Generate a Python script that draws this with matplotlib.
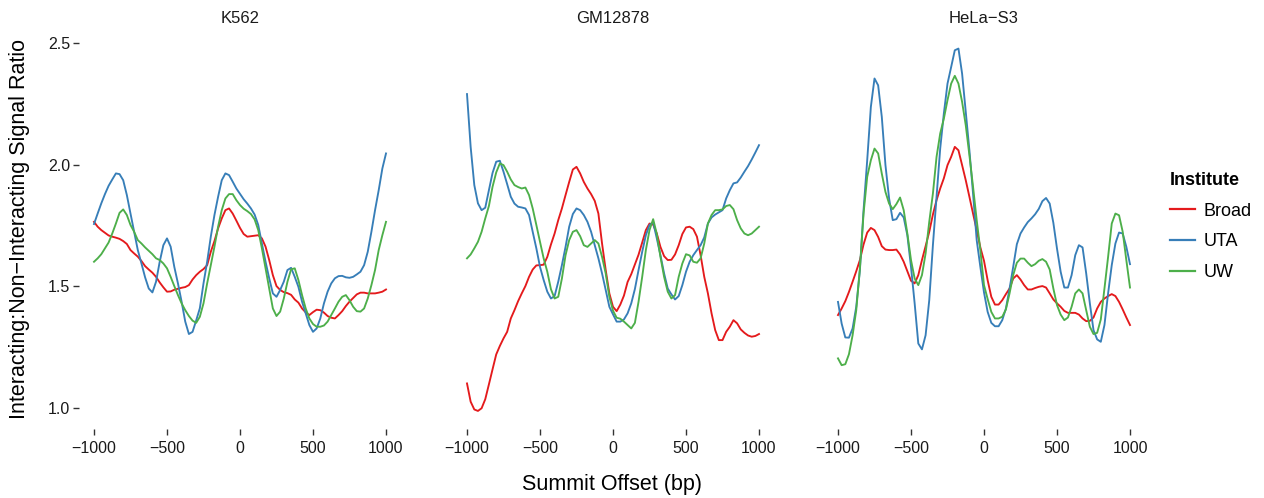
import matplotlib
matplotlib.use("Agg")
import matplotlib.pyplot as plt
from matplotlib.lines import Line2D

plt.rcParams['font.family'] = ['Liberation Sans', 'DejaVu Sans']

offsets = list(range(-1000, 1001, 25))
cell_lines = ["K562", "GM12878", "HeLa\u2212S3"]
institutes = ["Broad", "UTA", "UW"]
colors = {"Broad": "#E41A1C", "UTA": "#377EB8", "UW": "#4DAF4A"}

k562_broad = [1.765, 1.745, 1.731, 1.720, 1.709, 1.704, 1.700, 1.695, 1.686, 1.674,
              1.649, 1.635, 1.622, 1.604, 1.583, 1.569, 1.556, 1.539, 1.516, 1.496,
              1.478, 1.479, 1.486, 1.490, 1.494, 1.497, 1.505, 1.528, 1.546, 1.560,
              1.571, 1.587, 1.642, 1.686, 1.738, 1.779, 1.813, 1.820, 1.799, 1.770,
              1.740, 1.715, 1.704, 1.706, 1.708, 1.710, 1.697, 1.663, 1.608, 1.546,
              1.501, 1.485, 1.476, 1.472, 1.465, 1.446, 1.433, 1.409, 1.393, 1.382,
              1.394, 1.404, 1.402, 1.392, 1.378, 1.371, 1.368, 1.382, 1.398, 1.419,
              1.437, 1.452, 1.467, 1.474, 1.474, 1.471, 1.471, 1.471, 1.474, 1.478,
              1.487]
k562_uta = [1.756, 1.799, 1.841, 1.879, 1.913, 1.939, 1.964, 1.961, 1.936, 1.875,
            1.799, 1.724, 1.649, 1.594, 1.537, 1.491, 1.475, 1.519, 1.601, 1.669,
            1.697, 1.663, 1.580, 1.512, 1.437, 1.355, 1.304, 1.313, 1.360, 1.410,
            1.512, 1.601, 1.704, 1.793, 1.868, 1.936, 1.964, 1.957, 1.930, 1.902,
            1.880, 1.858, 1.840, 1.820, 1.795, 1.752, 1.676, 1.601, 1.533, 1.471,
            1.457, 1.485, 1.519, 1.567, 1.576, 1.539, 1.498, 1.437, 1.389, 1.341,
            1.313, 1.327, 1.368, 1.430, 1.478, 1.512, 1.533, 1.542, 1.543, 1.537,
            1.535, 1.539, 1.549, 1.560, 1.587, 1.642, 1.724, 1.813, 1.895, 1.984,
            2.046]
k562_uw = [1.601, 1.615, 1.632, 1.656, 1.680, 1.717, 1.758, 1.802, 1.816, 1.793,
           1.752, 1.724, 1.690, 1.676, 1.660, 1.646, 1.632, 1.615, 1.608, 1.594,
           1.574, 1.539, 1.501, 1.464, 1.430, 1.402, 1.378, 1.359, 1.350, 1.375,
           1.430, 1.512, 1.587, 1.663, 1.745, 1.813, 1.861, 1.879, 1.879, 1.854,
           1.834, 1.819, 1.809, 1.797, 1.775, 1.731, 1.656, 1.574, 1.491, 1.409,
           1.378, 1.396, 1.450, 1.519, 1.570, 1.574, 1.526, 1.464, 1.409, 1.368,
           1.345, 1.334, 1.334, 1.339, 1.355, 1.382, 1.409, 1.437, 1.457, 1.464,
           1.443, 1.416, 1.398, 1.396, 1.409, 1.450, 1.505, 1.567, 1.649, 1.710,
           1.765]

gm_broad = [1.101, 1.026, 0.994, 0.988, 0.999, 1.036, 1.097, 1.159, 1.220, 1.255,
            1.286, 1.313, 1.368, 1.402, 1.439, 1.471, 1.501, 1.539, 1.569, 1.586,
            1.587, 1.589, 1.621, 1.672, 1.717, 1.772, 1.820, 1.875, 1.929, 1.980,
            1.991, 1.964, 1.929, 1.902, 1.879, 1.851, 1.799, 1.676, 1.567, 1.471,
            1.416, 1.398, 1.425, 1.462, 1.518, 1.550, 1.590, 1.630, 1.680, 1.731,
            1.758, 1.754, 1.717, 1.662, 1.624, 1.608, 1.609, 1.631, 1.669, 1.715,
            1.742, 1.745, 1.735, 1.704, 1.628, 1.539, 1.471, 1.389, 1.320, 1.279,
            1.279, 1.313, 1.334, 1.361, 1.348, 1.323, 1.309, 1.298, 1.293, 1.296,
            1.304]
gm_uta = [2.290, 2.073, 1.916, 1.841, 1.813, 1.823, 1.895, 1.966, 2.012, 2.016,
          1.971, 1.920, 1.868, 1.840, 1.827, 1.824, 1.820, 1.793, 1.724, 1.656,
          1.580, 1.526, 1.478, 1.450, 1.460, 1.519, 1.587, 1.662, 1.745, 1.797,
          1.820, 1.813, 1.793, 1.765, 1.724, 1.669, 1.615, 1.553, 1.485, 1.416,
          1.385, 1.355, 1.355, 1.364, 1.389, 1.430, 1.489, 1.567, 1.642, 1.710,
          1.752, 1.763, 1.697, 1.628, 1.553, 1.491, 1.467, 1.446, 1.460, 1.505,
          1.560, 1.601, 1.628, 1.649, 1.669, 1.701, 1.758, 1.783, 1.795, 1.804,
          1.813, 1.861, 1.895, 1.923, 1.927, 1.947, 1.971, 1.994, 2.021, 2.050,
          2.080]
gm_uw = [1.615, 1.631, 1.656, 1.683, 1.724, 1.779, 1.830, 1.909, 1.968, 2.005,
         1.998, 1.971, 1.939, 1.916, 1.908, 1.902, 1.906, 1.875, 1.820, 1.752,
         1.683, 1.615, 1.560, 1.488, 1.450, 1.457, 1.532, 1.628, 1.690, 1.724,
         1.731, 1.706, 1.669, 1.662, 1.676, 1.690, 1.676, 1.621, 1.553, 1.457,
         1.400, 1.371, 1.367, 1.355, 1.341, 1.327, 1.350, 1.437, 1.539, 1.649,
         1.731, 1.776, 1.715, 1.621, 1.539, 1.478, 1.450, 1.464, 1.539, 1.594,
         1.632, 1.627, 1.601, 1.597, 1.615, 1.676, 1.758, 1.793, 1.813, 1.813,
         1.816, 1.830, 1.834, 1.817, 1.772, 1.738, 1.717, 1.710, 1.717, 1.731,
         1.745]

hela_broad = [1.382, 1.409, 1.439, 1.477, 1.519, 1.562, 1.608, 1.672, 1.721, 1.740,
              1.731, 1.703, 1.665, 1.651, 1.649, 1.649, 1.651, 1.631, 1.601, 1.562,
              1.523, 1.512, 1.546, 1.608, 1.665, 1.724, 1.795, 1.854, 1.902, 1.944,
              1.998, 2.032, 2.073, 2.059, 1.998, 1.936, 1.868, 1.799, 1.731, 1.660,
              1.605, 1.525, 1.457, 1.425, 1.425, 1.443, 1.468, 1.491, 1.532, 1.546,
              1.528, 1.505, 1.487, 1.487, 1.493, 1.498, 1.501, 1.495, 1.471, 1.446,
              1.430, 1.416, 1.399, 1.391, 1.391, 1.391, 1.384, 1.368, 1.357, 1.358,
              1.372, 1.409, 1.436, 1.450, 1.460, 1.468, 1.460, 1.436, 1.405, 1.372,
              1.341]
hela_uta = [1.436, 1.347, 1.290, 1.289, 1.327, 1.416, 1.567, 1.813, 2.018, 2.237,
            2.354, 2.326, 2.196, 1.998, 1.861, 1.772, 1.776, 1.802, 1.783, 1.710,
            1.580, 1.430, 1.265, 1.241, 1.299, 1.443, 1.669, 1.868, 2.066, 2.210,
            2.333, 2.401, 2.470, 2.477, 2.374, 2.217, 2.059, 1.881, 1.690, 1.580,
            1.475, 1.395, 1.350, 1.336, 1.336, 1.361, 1.409, 1.490, 1.580, 1.673,
            1.717, 1.742, 1.764, 1.779, 1.796, 1.818, 1.850, 1.863, 1.840, 1.761,
            1.655, 1.560, 1.495, 1.495, 1.546, 1.628, 1.669, 1.660, 1.553, 1.430,
            1.320, 1.282, 1.272, 1.341, 1.471, 1.587, 1.676, 1.721, 1.717, 1.662,
            1.591]
hela_uw = [1.204, 1.176, 1.180, 1.221, 1.299, 1.402, 1.573, 1.799, 1.950, 2.018,
           2.066, 2.046, 1.963, 1.888, 1.840, 1.817, 1.838, 1.865, 1.813, 1.717,
           1.608, 1.532, 1.505, 1.546, 1.635, 1.765, 1.881, 2.032, 2.128, 2.189,
           2.265, 2.333, 2.365, 2.333, 2.258, 2.162, 2.039, 1.909, 1.772, 1.649,
           1.505, 1.448, 1.395, 1.368, 1.368, 1.375, 1.405, 1.471, 1.546, 1.597,
           1.614, 1.614, 1.597, 1.583, 1.591, 1.605, 1.612, 1.601, 1.569, 1.491,
           1.423, 1.384, 1.361, 1.372, 1.416, 1.471, 1.487, 1.471, 1.402, 1.334,
           1.304, 1.309, 1.364, 1.491, 1.621, 1.758, 1.799, 1.792, 1.724, 1.607,
           1.495]

data = {
    "K562": {"Broad": k562_broad, "UTA": k562_uta, "UW": k562_uw},
    "GM12878": {"Broad": gm_broad, "UTA": gm_uta, "UW": gm_uw},
    "HeLa\u2212S3": {"Broad": hela_broad, "UTA": hela_uta, "UW": hela_uw},
}

x_ticks = [-1000, -500, 0, 500, 1000]
x_ticklabels = ["\u22121000", "\u2212500", "0", "500", "1000"]
y_ticks = [1.0, 1.5, 2.0, 2.5]
y_ticklabels = ["1.0", "1.5", "2.0", "2.5"]

W, H = 1264, 498
fig = plt.figure(figsize=(W / 100, H / 100), dpi=100)

panel_lefts = [79.4, 452.4, 823.4]
pw = 321.2
top_px, bot_px = 28.6, 428.7
tick_col = '#333333'
txt_col = '#1a1a1a'

for i, cl in enumerate(cell_lines):
    ax = fig.add_axes([panel_lefts[i] / W, 1 - bot_px / H, pw / W, (bot_px - top_px) / H])
    for inst in institutes:
        ax.plot(offsets, data[cl][inst], color=colors[inst], lw=1.35)
    ax.set_xlim(-1100, 1100)
    ax.set_ylim(0.915, 2.559)
    for s in ax.spines.values():
        s.set_visible(False)
    ax.set_xticks(x_ticks)
    ax.set_xticklabels(x_ticklabels)
    ax.tick_params(axis='x', length=4, width=1, color=tick_col, labelsize=11.5,
                   pad=4.5, labelcolor=txt_col)
    if i == 0:
        ax.set_yticks(y_ticks)
        ax.set_yticklabels(y_ticklabels)
        ax.tick_params(axis='y', length=4, width=1, color=tick_col, labelsize=11.5,
                       pad=2.5, labelcolor=txt_col)
    else:
        ax.set_yticks([])
    ax.text(0.5, 1 + (top_px - 18) / (bot_px - top_px), cl, transform=ax.transAxes,
            ha='center', va='center', fontsize=12, color=txt_col)

fig.text(20 / W, 1 - 229 / H, "Interacting:Non\u2212Interacting Signal Ratio",
         rotation=90, ha='center', va='center', fontsize=15.5, color='black')
fig.text(612 / W, 1 - 484 / H, "Summit Offset (bp)", ha='center', va='center',
         fontsize=15.5, color='black')

handles = [Line2D([0], [0], color=colors[k], lw=1.6) for k in institutes]
leg = fig.legend(handles, institutes, loc='upper left', bbox_to_anchor=(1170 / W, 1 - 172 / H),
                 frameon=False, title="Institute", fontsize=13, title_fontsize=13,
                 handlelength=1.39, handletextpad=0.45, labelspacing=0.76,
                 borderpad=0, borderaxespad=0, alignment='left')
leg.get_title().set_fontweight('bold')

fig.savefig("out.png", dpi=100)
